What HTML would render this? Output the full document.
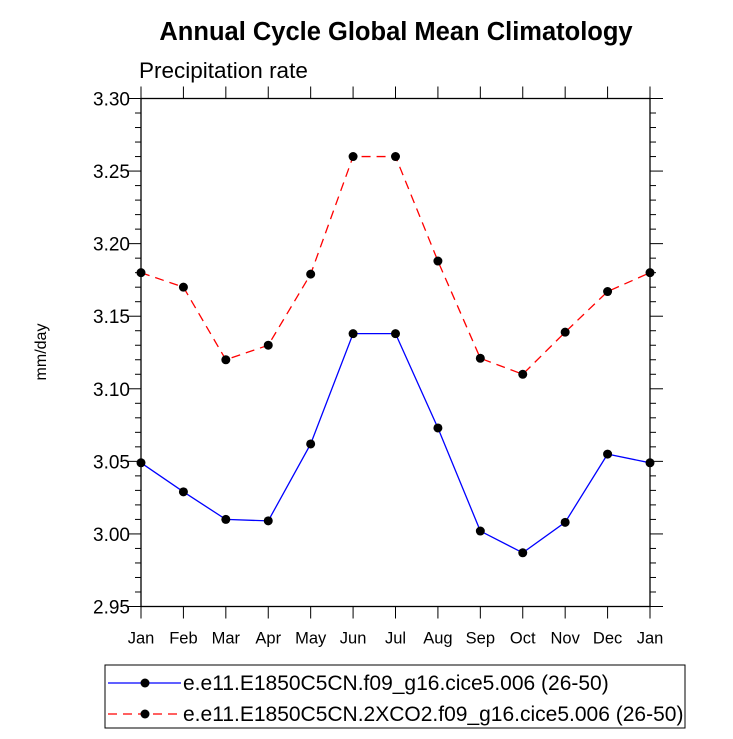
<!DOCTYPE html>
<html><head><meta charset="utf-8"><style>
body{margin:0;background:#fff}
svg{display:block;font-family:"Liberation Sans",sans-serif}
</style></head><body>
<svg id="chart" width="733" height="739" viewBox="0 0 733 739">
<text x="396" y="40" text-anchor="middle" font-size="25.5" font-weight="bold">Annual Cycle Global Mean Climatology</text>
<text x="139" y="78" font-size="22.5">Precipitation rate</text>
<text transform="translate(46,352) rotate(-90)" text-anchor="middle" font-size="16">mm/day</text>
<g id="axes"></g>
<g id="series"></g>
<g>
<rect x="105" y="665" width="580" height="63" fill="none" stroke="#000" stroke-width="1"/>
<line x1="108" y1="683" x2="181" y2="683" stroke="#00f" stroke-width="1.2"/>
<circle cx="145" cy="683" r="4.5" fill="#000"/>
<text x="183" y="690" font-size="21">e.e11.E1850C5CN.f09_g16.cice5.006 (26-50)</text>
<line x1="108" y1="714" x2="181" y2="714" stroke="#f00" stroke-width="1.2" stroke-dasharray="9,6"/>
<circle cx="145" cy="714" r="4.5" fill="#000"/>
<text x="183" y="721" font-size="21">e.e11.E1850C5CN.2XCO2.f09_g16.cice5.006 (26-50)</text>
</g>
</svg>
<script>
const months=["Jan","Feb","Mar","Apr","May","Jun","Jul","Aug","Sep","Oct","Nov","Dec","Jan"];
const yTicks=["2.95","3.00","3.05","3.10","3.15","3.20","3.25","3.30"];
const controlValues=[3.049,3.029,3.010,3.009,3.062,3.138,3.138,3.073,3.002,2.987,3.008,3.055,3.049];
const co2Values=[3.180,3.170,3.120,3.130,3.179,3.260,3.260,3.188,3.121,3.110,3.139,3.167,3.180];
const NS="http://www.w3.org/2000/svg";
const L=141,R=650,T=98.5,B=606.5,ymin=2.95,ymax=3.30;
const xs=i=>L+(R-L)*i/(months.length-1);
const ys=v=>B-(v-ymin)/(ymax-ymin)*(B-T);
function mk(tag,attrs,parent){const e=document.createElementNS(NS,tag);for(const k in attrs)e.setAttribute(k,attrs[k]);parent.appendChild(e);return e;}
const ax=document.getElementById('axes');
const frame=mk('rect',{x:L,y:T,width:R-L,height:B-T,fill:'none',stroke:'#000','stroke-width':1.3},ax);


months.forEach((m,i)=>{
  const x=xs(i);
  mk('line',{x1:x,y1:B,x2:x,y2:B+12,stroke:'#000'},ax);
  mk('line',{x1:x,y1:T,x2:x,y2:T-12,stroke:'#000'},ax);
  const t=mk('text',{x:x,y:B+37,'text-anchor':'middle','font-size':16.5},ax);
  t.textContent=m;
  
  
});
for(let k=0;k<=35;k++){
  const v=ymin+k*0.01,y=ys(v),major=k%5===0,len=major?13:6;
  mk('line',{x1:L,y1:y,x2:L-len,y2:y,stroke:'#000'},ax);
  mk('line',{x1:R,y1:y,x2:R+len,y2:y,stroke:'#000'},ax);
}
yTicks.forEach(s=>{
  const t=mk('text',{x:L-11,y:ys(parseFloat(s))+7,'text-anchor':'end','font-size':19},ax);
  t.textContent=s;
  
  
});
const sg=document.getElementById('series');
function draw(vals,color,dash,name){
  const p=mk('polyline',{points:vals.map((v,i)=>xs(i)+','+ys(v)).join(' '),fill:'none',stroke:color,'stroke-width':1.3,'stroke-dasharray':dash},sg);
  
  
  vals.forEach((v,i)=>{
    const c=mk('circle',{cx:xs(i),cy:ys(v),r:4.5,fill:'#000'},sg);
    
    
  });
}
draw(controlValues,'#00f','none','control');
draw(co2Values,'#f00','9,6','co2');
</script>
</body></html>
